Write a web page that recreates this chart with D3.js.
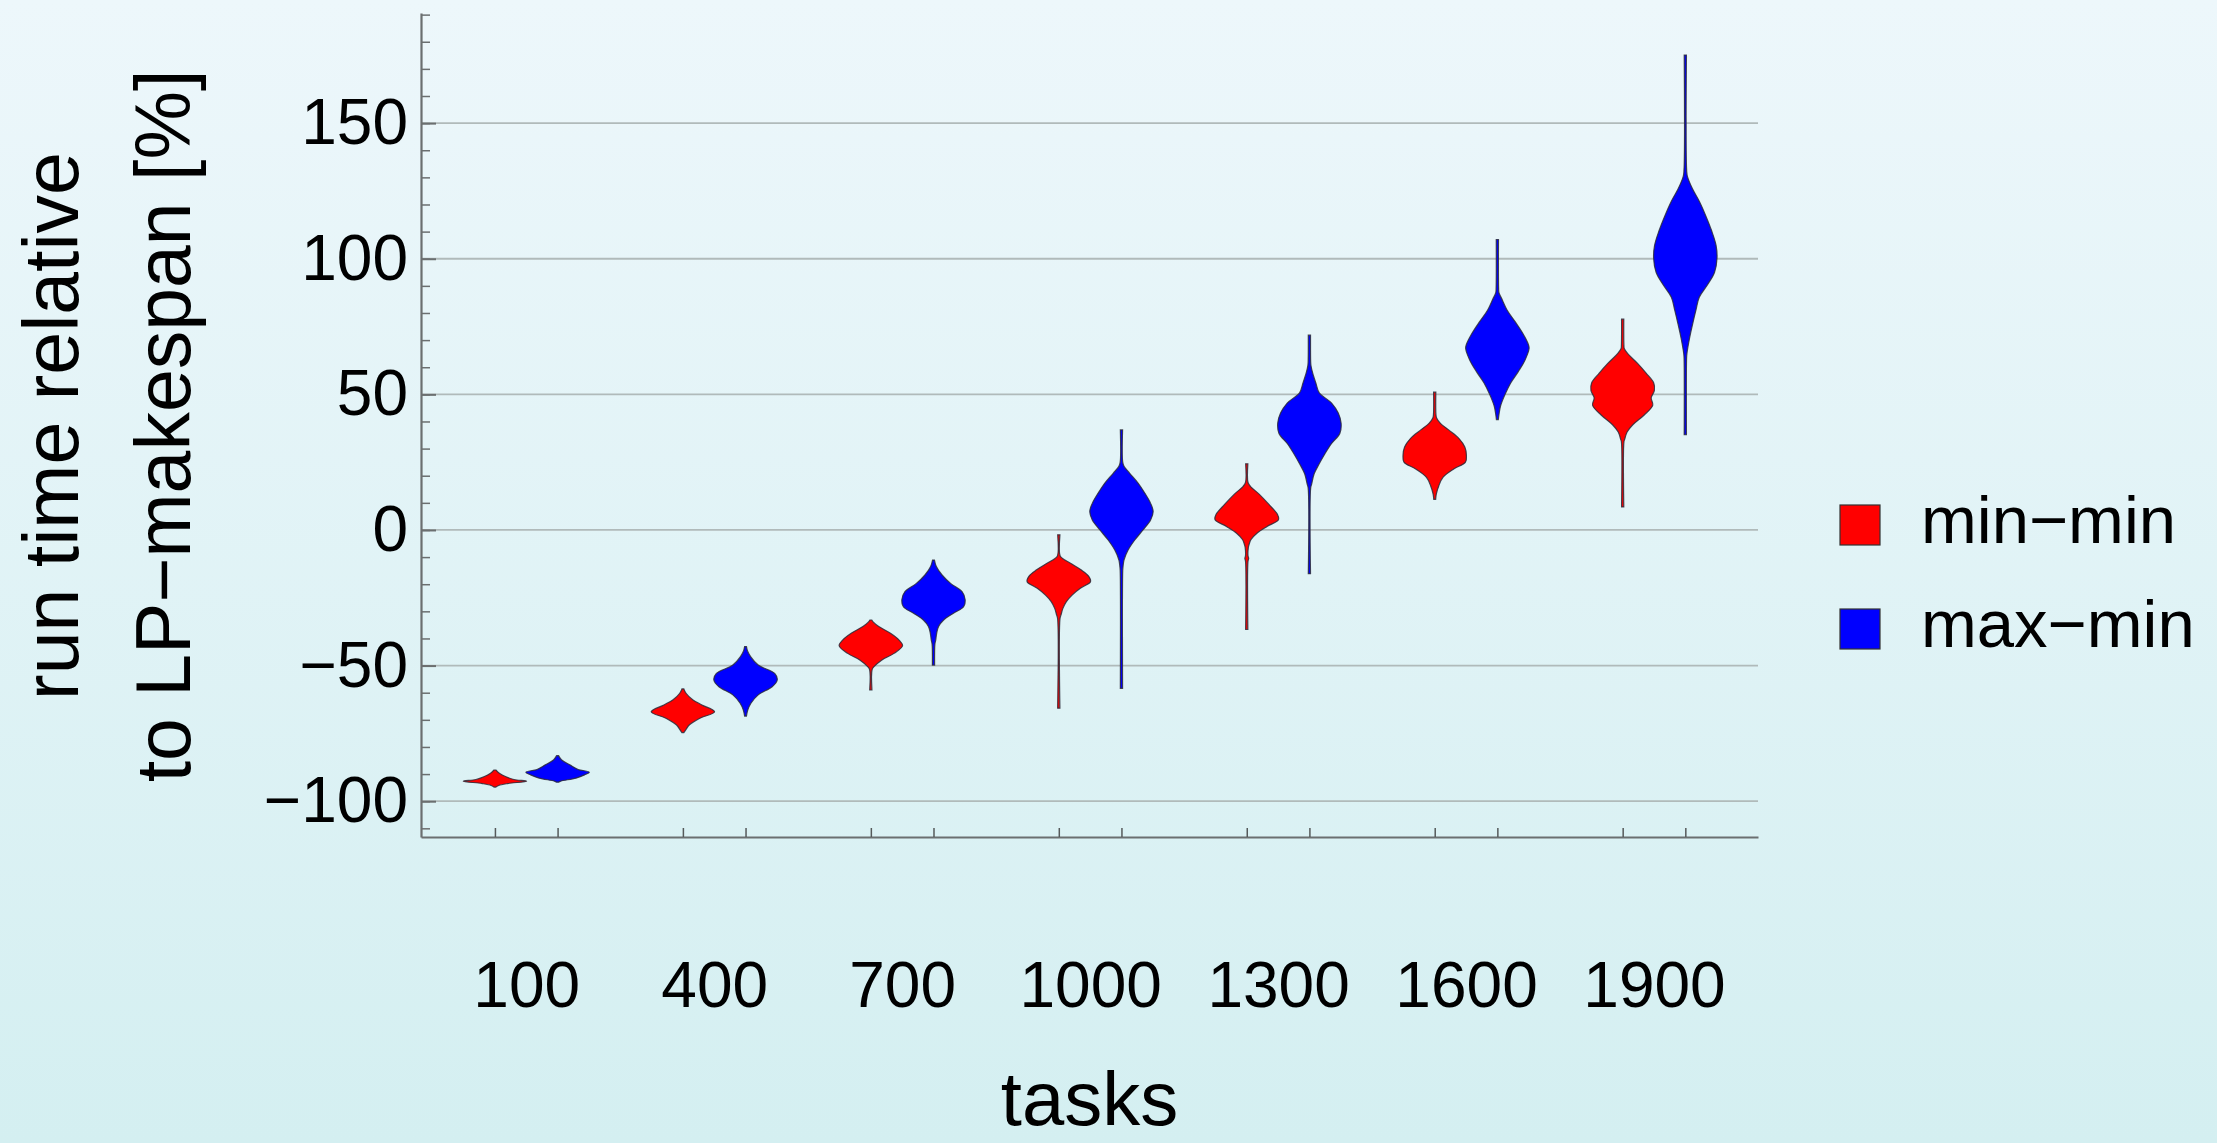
<!DOCTYPE html>
<html>
<head>
<meta charset="utf-8">
<script src="https://cdn.jsdelivr.net/npm/d3@7"></script>
<style>
html, body { margin: 0; padding: 0; }
body {
	width: 2217px; height: 1143px; overflow: hidden;
	background: linear-gradient(to bottom, #edf7fb, #d4eff1);
}
svg text { font-family: "Liberation Sans", Arial, Helvetica, sans-serif; fill: #000; }
</style>
</head>
<body>
<div id="chart"></div>
<script>

// categories and labels
var tasks = [100, 400, 700, 1000, 1300, 1600, 1900];
var seriesNames = ["min\u2212min", "max\u2212min"];
var yTicks = [-100, -50, 0, 50, 100, 150];

// violin profiles: [value %, relative width]
var minMin = [
	[[-94.8,0.03],[-94.2,0.12],[-93.5,0.4],[-92.6,1],[-92.0,0.6],[-91.0,0.35],[-89.7,0.14],[-88.5,0.03]],
	[[-74.7,0.03],[-73.5,0.1],[-71.9,0.2],[-69.5,0.52],[-67,1],[-64.5,0.6],[-62.7,0.32],[-60.2,0.1],[-58.6,0.03]],
	[[-59,0.035],[-51.5,0.04],[-50.4,0.1],[-47.9,0.35],[-45.5,0.73],[-42.7,1],[-40.6,0.89],[-38.1,0.62],[-35.6,0.25],[-34,0.08],[-33.2,0.03]],
	[[-65.7,0.035],[-32.5,0.04],[-31.3,0.07],[-28.9,0.13],[-26.4,0.24],[-24.0,0.42],[-21.5,0.68],[-19.1,1],[-17.2,0.95],[-14.7,0.7],[-12.3,0.37],[-10.5,0.12],[-9.5,0.04],[-1.8,0.035]],
	[[-36.7,0.035],[-11.5,0.04],[-10.5,0.06],[-9.5,0.04],[-6.5,0.05],[-5.5,0.07],[-3.6,0.13],[-1.1,0.33],[1.3,0.64],[3.8,1],[5.7,0.97],[9.4,0.7],[13.2,0.39],[16.0,0.12],[17.5,0.04],[24.4,0.035]],
	[[11.3,0.03],[13.2,0.05],[16.3,0.13],[19.4,0.26],[22.5,0.6],[25.0,0.97],[27.5,1],[30.6,0.95],[33.8,0.76],[36.9,0.44],[39.3,0.18],[41.3,0.06],[42.5,0.04],[50.8,0.035]],
	[[8.5,0.035],[32.5,0.04],[33.3,0.06],[36.1,0.14],[38.8,0.32],[42.4,0.68],[46.0,0.95],[48.7,0.9],[51.4,1],[54.2,0.98],[57.8,0.74],[61.4,0.47],[65.0,0.16],[66.9,0.05],[68,0.04],[77.7,0.035]]
];

var maxMin = [
	[[-93,0.03],[-92.6,0.1],[-91.5,0.58],[-90.3,0.85],[-89.3,1],[-88.3,0.65],[-86.7,0.4],[-84.8,0.13],[-83.2,0.03]],
	[[-68.6,0.03],[-66.4,0.07],[-63.9,0.17],[-60.8,0.4],[-57.8,0.84],[-55.3,1],[-52.9,0.92],[-49.8,0.4],[-46.7,0.16],[-44.5,0.06],[-43,0.03]],
	[[-49.8,0.035],[-42,0.045],[-40.6,0.07],[-38.1,0.1],[-35.6,0.16],[-33.2,0.32],[-30.7,0.63],[-28.3,0.95],[-25.8,1],[-22.7,0.9],[-19.7,0.54],[-16.6,0.27],[-13.5,0.09],[-11.1,0.03]],
	[[-58.4,0.035],[-15,0.04],[-13.5,0.05],[-11.1,0.08],[-7.4,0.21],[-3.7,0.42],[0,0.68],[3.7,0.92],[6.8,1],[9.8,0.92],[13.5,0.74],[17.2,0.53],[20.9,0.26],[23.5,0.08],[25,0.04],[36.9,0.035]],
	[[-16.1,0.035],[15.5,0.04],[16.9,0.07],[20.7,0.15],[24.4,0.31],[28.1,0.49],[31.9,0.7],[35.6,0.96],[39.3,1],[43.1,0.91],[46.8,0.7],[50.6,0.31],[54.3,0.2],[58.0,0.1],[60.5,0.05],[62,0.04],[71.8,0.035]],
	[[40.7,0.03],[42.5,0.05],[45.7,0.1],[49.9,0.24],[54.2,0.42],[58.4,0.66],[62.6,0.87],[66.9,1],[68.3,0.98],[72.5,0.8],[76.8,0.56],[81.0,0.31],[85.2,0.14],[87.5,0.05],[89,0.04],[107.1,0.035]],
	[[35.1,0.035],[63.5,0.04],[65,0.05],[70.5,0.13],[75.9,0.23],[81.3,0.34],[85.8,0.44],[90.4,0.7],[94.9,0.92],[100.3,1],[104.9,0.97],[110.3,0.83],[115.7,0.65],[121.2,0.44],[125.7,0.23],[130.2,0.07],[132,0.045],[175.1,0.035]]
];

var colors = ["#ff0000", "#0000ff"];
var pairOffset = 50;   // tasks each violin sits left/right of its label

var W = 2217, H = 1143;
var plotL = 421, plotR = 1758, plotT = 13, plotB = 837;

var svg = d3.select("#chart")
	.append("svg")
	.attr("width", W)
	.attr("height", H);

var x = d3.scaleLinear().domain([-68, 2066]).range([plotL, plotR]);
var y = d3.scaleLinear().domain([-113.2, 190.6]).range([plotB, plotT]);
var w = d3.scaleLinear().domain([0, 1]).range([0, 31.7]);

// grid lines
svg.append("g")
	.selectAll("line")
	.data(yTicks)
	.enter().append("line")
	.attr("x1", plotL)
	.attr("x2", plotR)
	.attr("y1", function(d) { return y(d); })
	.attr("y2", function(d) { return y(d); })
	.attr("stroke", "#b0baba")
	.attr("stroke-width", 1.8);

// violins
var area = d3.area()
	.y(function(d) { return y(d[0]); })
	.x0(function(d) { return -w(d[1]); })
	.x1(function(d) { return w(d[1]); })
	.curve(d3.curveCatmullRom.alpha(0.5));

[minMin, maxMin].forEach(function(series, s) {
	svg.append("g")
		.selectAll("path")
		.data(series)
		.enter().append("path")
		.attr("transform", function(d, i) {
			return "translate(" + x(tasks[i] + (s ? pairOffset : -pairOffset)) + ",0)";
		})
		.attr("d", area)
		.attr("fill", colors[s])
		.attr("stroke", "#2b2b3a")
		.attr("stroke-opacity", 0.85)
		.attr("stroke-width", 1.2);
});

// y axis: minor then major ticks, pointing inward
svg.append("g")
	.attr("transform", "translate(" + plotL + ",0)")
	.call(d3.axisLeft(y).tickValues(d3.range(-110, 191, 10)).tickSize(-9).tickFormat(""))
	.call(function(g) { g.select(".domain").remove(); })
	.selectAll("line").attr("stroke", "#6b6f70").attr("stroke-width", 1.5);

var yAxis = svg.append("g")
	.attr("transform", "translate(" + plotL + ",0)")
	.call(d3.axisLeft(y).tickValues(yTicks).tickSize(-15).tickPadding(13).tickSizeOuter(0));
yAxis.select(".domain").attr("stroke", "#6b6f70").attr("stroke-width", 2.2);
yAxis.selectAll("line").attr("stroke", "#6b6f70").attr("stroke-width", 2);
yAxis.selectAll("text").attr("font-size", 64).attr("font-family", null).attr("fill", "#000");

// x axis: small ticks under each violin
var violinX = [];
tasks.forEach(function(t) { violinX.push(t - pairOffset, t + pairOffset); });

var xAxis = svg.append("g")
	.attr("transform", "translate(0," + plotB + ")")
	.call(d3.axisBottom(x).tickValues(violinX).tickSize(-9).tickSizeOuter(0).tickFormat(""));
xAxis.select(".domain").attr("stroke", "#6b6f70").attr("stroke-width", 2.2);
xAxis.selectAll("line").attr("stroke", "#55595a").attr("stroke-width", 1.5);

// group labels
var xLabels = svg.append("g")
	.attr("transform", "translate(0," + plotB + ")")
	.call(d3.axisBottom(x).tickValues(tasks).tickSize(0).tickPadding(125).tickFormat(d3.format("d")));
xLabels.select(".domain").remove();
xLabels.selectAll("text").attr("font-size", 64).attr("font-family", null).attr("fill", "#000");

// axis titles
svg.append("text")
	.attr("x", (plotL + plotR) / 2)
	.attr("y", 1125)
	.attr("text-anchor", "middle")
	.attr("font-size", 76)
	.text("tasks");

var yTitle = svg.append("text")
	.attr("transform", "translate(78,426) rotate(-90)")
	.attr("text-anchor", "middle")
	.attr("font-size", 77);
yTitle.append("tspan").attr("x", 0).attr("y", 0).text("run time relative");
yTitle.append("tspan").attr("x", 0).attr("y", 112).text("to LP\u2212makespan [%]");

// legend
var legend = svg.append("g")
	.selectAll("g")
	.data(seriesNames)
	.enter().append("g")
	.attr("transform", function(d, i) { return "translate(1840," + (505 + i * 104) + ")"; });

legend.append("rect")
	.attr("width", 40)
	.attr("height", 40)
	.attr("fill", function(d, i) { return colors[i]; })
	.attr("stroke", "#333")
	.attr("stroke-width", 1.2);

legend.append("text")
	.attr("x", 81)
	.attr("y", 38)
	.attr("font-size", 67)
	.text(function(d) { return d; });

</script>
</body>
</html>
